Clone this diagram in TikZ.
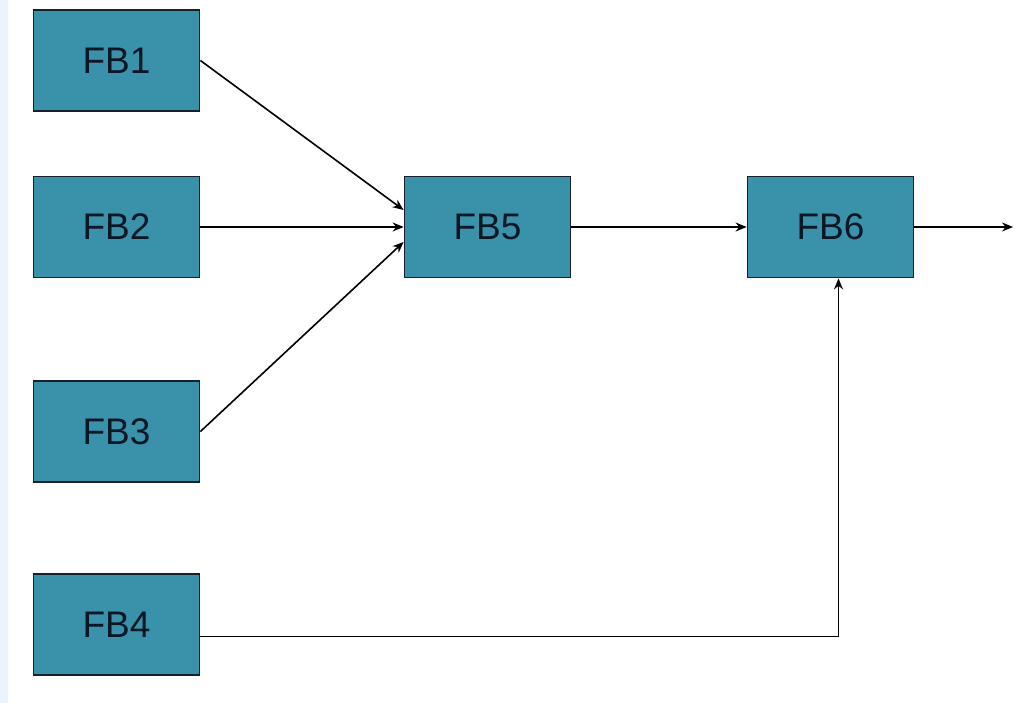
\documentclass[tikz,border=0pt]{standalone}
\usepackage{fontspec}
\setmainfont{Liberation Sans}
\usetikzlibrary{
	positioning,
	arrows.meta,
	calc}
\definecolor{fbfill}{RGB}{58,146,170}
\definecolor{fbedge}{RGB}{20,32,42}
\definecolor{fbtext}{RGB}{12,22,36}
\definecolor{stripblue}{RGB}{234,244,252}
\tikzset{
	block diagram/.style={
		x=1pt, y=-1pt,
		line width=1.6pt,
		>={Stealth[length=11pt,width=9pt]}
		},
	fb/.style={
		rectangle,
		draw=fbedge,
		fill=fbfill,
		line width=1.8pt,
		inner sep=0pt,
		minimum width=166pt,
		minimum height=101pt,
		text=fbtext,
		font=\fontsize{37}{37}\selectfont
	},
	wire/.style={->, draw=black},
}

\begin{document}
\begin{tikzpicture}[block diagram]
	\useasboundingbox (0,0) rectangle (1015,703);
	\fill[stripblue] (0,0) rectangle (8,703);
	\node[fb] (fb1) at (116.5,60.5) {FB1};
	\node[fb] (fb2) at (116.5,227) {FB2};
	\node[fb] (fb3) at (116.5,431.5) {FB3};
	\node[fb] (fb4) at (116.5,624.5) {FB4};
	\node[fb] (fb5) at (487.5,227) {FB5};
	\node[fb] (fb6) at (830.5,227) {FB6};
	\coordinate (out) at (1013,227);
	\draw[wire] (fb1.east) -- ($(fb5.west)+(0,-17)$);
	\draw[wire] (fb2.east) -- (fb5.west);
	\draw[wire] (fb3.east) -- ($(fb5.west)+(0,15)$);
	\draw[wire] (fb5.east) -- (fb6.west);
	\draw[wire] (fb6.east) -- (out);
	\draw[wire] ($(fb4.east)+(0,12)$) -| ($(fb6.south)+(8,0)$);
\end{tikzpicture}
\end{document}
